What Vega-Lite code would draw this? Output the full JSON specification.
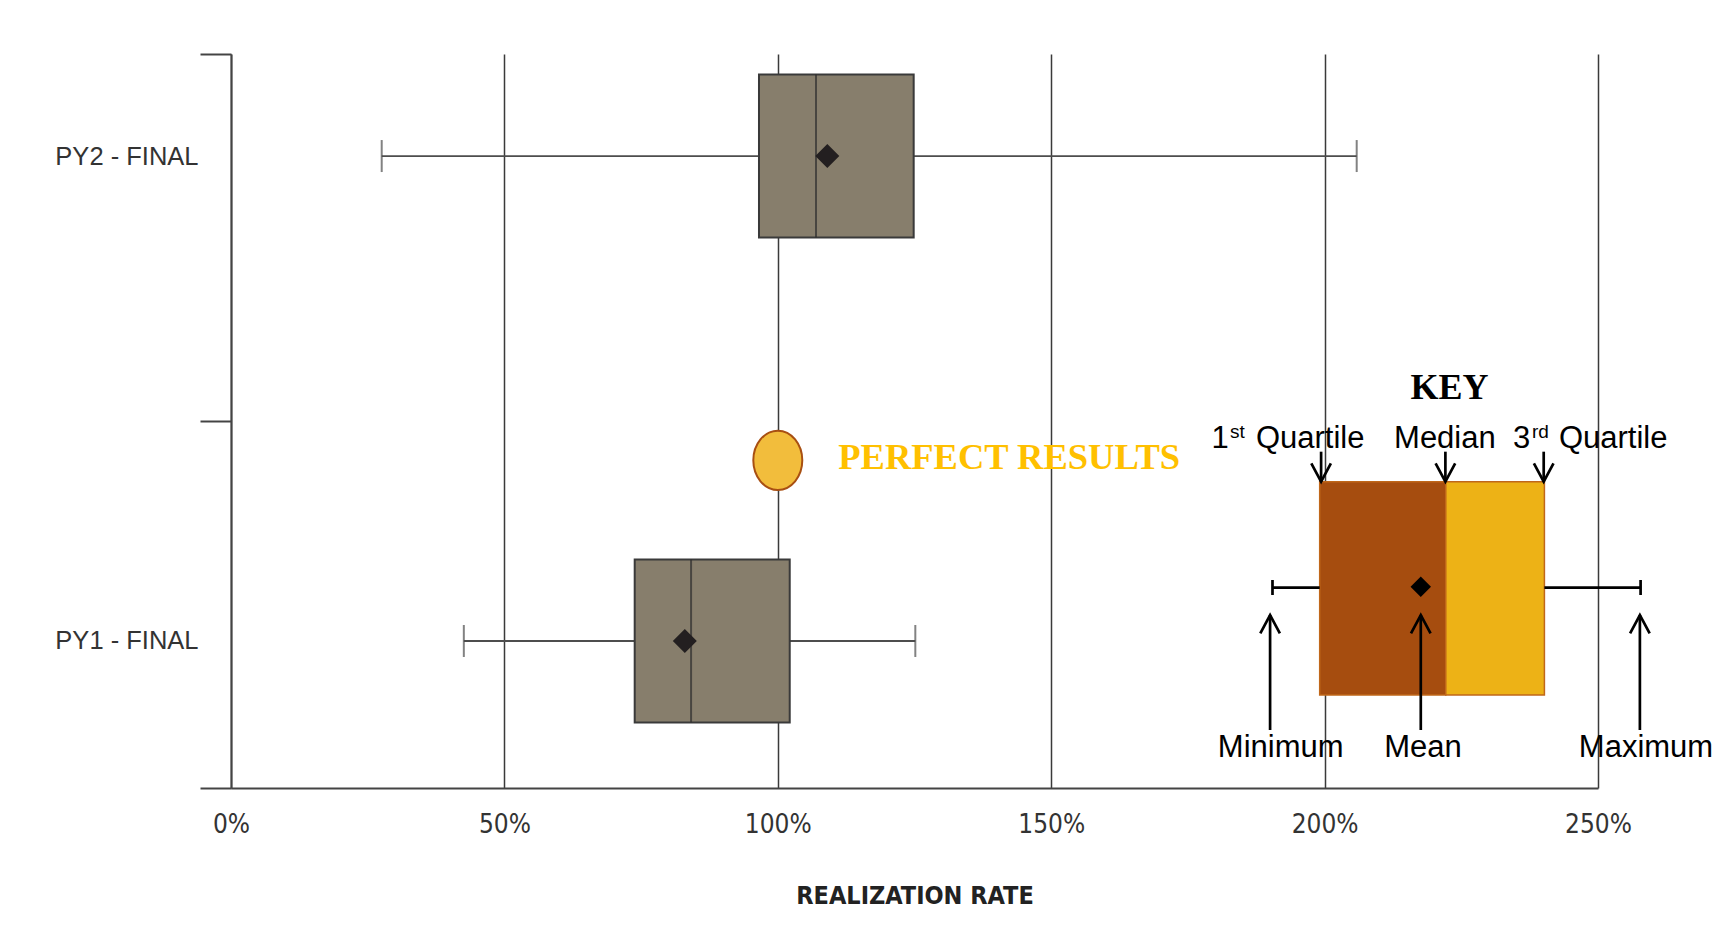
{
  "$schema": "https://vega.github.io/schema/vega-lite/v6.json",
  "width": 1367,
  "height": 734,
  "autosize": {"type": "none"},
  "padding": {"left": 231, "top": 54, "right": 119, "bottom": 164},
  "background": "white",
  "config": {
    "view": {"stroke": null},
    "axisX": {
      "grid": true,
      "gridColor": "#3a3a3a",
      "gridWidth": 1.5,
      "domainColor": "#444444",
      "domainWidth": 2,
      "ticks": false,
      "labelFlush": false,
      "labelPadding": 23,
      "labelFont": "Liberation Sans Narrow, DejaVu Sans Condensed, Liberation Sans, sans-serif",
      "labelFontSize": 26,
      "labelColor": "#333333",
      "titleFont": "Liberation Sans Narrow, DejaVu Sans Condensed, Liberation Sans, sans-serif",
      "titleFontSize": 25,
      "titleFontWeight": "bold",
      "titleColor": "#222222",
      "titlePadding": 46
    }
  },
  "datasets": {
    "boxes": [
      {"label": "PY2 - FINAL", "min": 0.2756, "q1": 0.9656, "median": 1.0699, "mean": 1.0905, "q3": 1.2485, "max": 2.0587},
      {"label": "PY1 - FINAL", "min": 0.4258, "q1": 0.7383, "median": 0.8414, "mean": 0.8299, "q3": 1.0218, "max": 1.2515}
    ],
    "keyrects": [
      {"part": "Q1 to median", "x": 1.991, "x2": 2.2216, "y": 0.4173, "y2": 0.1267},
      {"part": "median to Q3", "x": 2.2216, "x2": 2.402, "y": 0.4173, "y2": 0.1267}
    ],
    "segments": [
      {"x": 1.9047, "x2": 1.991, "y": 0.2729, "y2": 0.2729},
      {"x": 2.402, "x2": 2.5779, "y": 0.2729, "y2": 0.2729},
      {"x": 1.9047, "x2": 1.9047, "y": 0.2834, "y2": 0.2629},
      {"x": 2.5779, "x2": 2.5779, "y": 0.2834, "y2": 0.2629},
      {"x": 1.9936, "x2": 1.9936, "y": 0.4582, "y2": 0.4173},
      {"x": 2.2209, "x2": 2.2209, "y": 0.4582, "y2": 0.4173},
      {"x": 2.4007, "x2": 2.4007, "y": 0.4582, "y2": 0.4173},
      {"x": 1.9003, "x2": 1.9003, "y": 0.2357, "y2": 0.079},
      {"x": 2.1759, "x2": 2.1759, "y": 0.2357, "y2": 0.079},
      {"x": 2.5766, "x2": 2.5766, "y": 0.2357, "y2": 0.079}
    ],
    "arrowheads": [
      {"dir": "down", "x": 1.9936, "y": 0.4173},
      {"dir": "down", "x": 2.2209, "y": 0.4173},
      {"dir": "down", "x": 2.4007, "y": 0.4173},
      {"dir": "up", "x": 1.9003, "y": 0.2357},
      {"dir": "up", "x": 2.1759, "y": 0.2357},
      {"dir": "up", "x": 2.5766, "y": 0.2357}
    ],
    "keydiamond": [{"x": 2.1759, "y": 0.2743}],
    "perfect": [{"x": 1.0, "y": 0.4464}],
    "perfecttext": [{"text": "PERFECT RESULTS", "x": 1.1106, "y": 0.4342}],
    "keytitle": [{"text": "KEY", "x": 2.2283, "y": 0.5295}],
    "keylabels": [
      {"text": "1", "x": 1.809, "y": 0.4628},
      {"text": "Quartile", "x": 1.9736, "y": 0.4628},
      {"text": "Median", "x": 2.22, "y": 0.4628},
      {"text": "3", "x": 2.3603, "y": 0.4628},
      {"text": "Quartile", "x": 2.5278, "y": 0.4628},
      {"text": "Minimum", "x": 1.9197, "y": 0.0426},
      {"text": "Mean", "x": 2.18, "y": 0.0426},
      {"text": "Maximum", "x": 2.5878, "y": 0.0426}
    ],
    "keysup": [
      {"text": "st", "x": 1.8405, "y": 0.4764},
      {"text": "rd", "x": 2.3948, "y": 0.4764}
    ]
  },
  "resolve": {"scale": {"y": "independent"}},
  "layer": [
    {
      "data": {"name": "boxes"},
      "encoding": {
        "y": {
          "field": "label",
          "type": "nominal",
          "sort": null,
          "scale": {"type": "point", "padding": 0.2568, "align": 0.4097},
          "axis": {
            "orient": "left",
            "title": null,
            "domain": false,
            "ticks": false,
            "grid": false,
            "labelPadding": 33,
            "labelFont": "Liberation Sans, Arial, sans-serif",
            "labelFontSize": 25.5,
            "labelColor": "#333333"
          }
        }
      },
      "layer": [
        {
          "mark": {"type": "rule", "color": "#4d4d4d", "strokeWidth": 1.8},
          "encoding": {
            "x": {"field": "min", "type": "quantitative", "title": "REALIZATION RATE", "scale": {"domain": [0, 2.5], "nice": false},
                  "axis": {"values": [0, 0.5, 1, 1.5, 2, 2.5], "format": ".0%", "orient": "bottom"}},
            "x2": {"field": "max"}
          }
        },
        {
          "mark": {"type": "tick", "color": "#4d4d4d", "thickness": 2, "size": 32},
          "encoding": {"x": {"field": "min", "type": "quantitative", "title": "REALIZATION RATE", "scale": {"domain": [0, 2.5], "nice": false}}}
        },
        {
          "mark": {"type": "tick", "color": "#4d4d4d", "thickness": 2, "size": 32},
          "encoding": {"x": {"field": "max", "type": "quantitative", "title": "REALIZATION RATE", "scale": {"domain": [0, 2.5], "nice": false}}}
        },
        {
          "mark": {"type": "bar", "size": 163, "fill": "#877e6c", "stroke": "#3a3a3a", "strokeWidth": 2},
          "encoding": {
            "x": {"field": "q1", "type": "quantitative", "title": "REALIZATION RATE", "scale": {"domain": [0, 2.5], "nice": false}},
            "x2": {"field": "q3"}
          }
        },
        {
          "mark": {"type": "tick", "color": "#2e2e2e", "thickness": 2, "size": 163},
          "encoding": {"x": {"field": "median", "type": "quantitative", "title": "REALIZATION RATE", "scale": {"domain": [0, 2.5], "nice": false}}}
        },
        {
          "mark": {"type": "point", "shape": "diamond", "size": 576, "filled": true, "color": "#231f20", "opacity": 1},
          "encoding": {"x": {"field": "mean", "type": "quantitative", "title": "REALIZATION RATE", "scale": {"domain": [0, 2.5], "nice": false}}}
        }
      ]
    },
    {
      "encoding": {
        "x": {"field": "x", "type": "quantitative", "title": "REALIZATION RATE", "scale": {"domain": [0, 2.5], "nice": false}},
        "y": {
          "field": "y",
          "type": "quantitative",
          "scale": {"domain": [0, 1], "nice": false, "zero": false},
          "axis": {
            "orient": "left",
            "title": null,
            "values": [0, 0.5, 1],
            "labels": false,
            "ticks": true,
            "tickSize": 31,
            "tickWidth": 2,
            "tickColor": "#444444",
            "domain": true,
            "domainColor": "#444444",
            "domainWidth": 2,
            "grid": false
          }
        }
      },
      "layer": [
        {
          "data": {"name": "keyrects"},
          "mark": {"type": "rect", "stroke": "#c0671a", "strokeWidth": 1.5},
          "encoding": {
            "x2": {"field": "x2"},
            "y2": {"field": "y2"},
            "color": {"field": "part", "type": "nominal", "scale": {"domain": ["Q1 to median", "median to Q3"], "range": ["#A64D0F", "#EDB216"]}, "legend": null}
          }
        },
        {
          "data": {"name": "segments"},
          "mark": {"type": "rule", "color": "#000000", "strokeWidth": 2.7},
          "encoding": {"x2": {"field": "x2"}, "y2": {"field": "y2"}}
        },
        {
          "data": {"name": "arrowheads"},
          "mark": {"type": "point", "filled": false, "stroke": "#000000", "strokeWidth": 2.7, "size": 1340, "opacity": 1},
          "encoding": {
            "shape": {"field": "dir", "type": "nominal", "scale": {"domain": ["down", "up"], "range": ["M -0.535 -1 L 0 0 L 0.535 -1", "M -0.535 1 L 0 0 L 0.535 1"]}, "legend": null}
          }
        },
        {
          "data": {"name": "keydiamond"},
          "mark": {"type": "point", "shape": "diamond", "size": 420, "filled": true, "color": "#000000", "opacity": 1}
        },
        {
          "data": {"name": "perfect"},
          "mark": {"type": "point", "shape": "M -0.826 0 A 0.826 1 0 1 1 0.826 0 A 0.826 1 0 1 1 -0.826 0 Z", "size": 3516, "filled": true, "fill": "#F2BD3C", "stroke": "#A84F12", "strokeWidth": 2, "opacity": 1}
        },
        {
          "data": {"name": "perfecttext"},
          "mark": {"type": "text", "align": "left", "baseline": "alphabetic", "font": "Liberation Serif, serif", "fontWeight": "bold", "fontSize": 36.5, "color": "#FFC000"},
          "encoding": {"text": {"field": "text"}}
        },
        {
          "data": {"name": "keytitle"},
          "mark": {"type": "text", "align": "center", "baseline": "alphabetic", "font": "Liberation Serif, serif", "fontWeight": "bold", "fontSize": 36, "color": "#000000"},
          "encoding": {"text": {"field": "text"}}
        },
        {
          "data": {"name": "keylabels"},
          "mark": {"type": "text", "align": "center", "baseline": "alphabetic", "font": "Liberation Sans, Arial, sans-serif", "fontSize": 31, "color": "#000000"},
          "encoding": {"text": {"field": "text"}}
        },
        {
          "data": {"name": "keysup"},
          "mark": {"type": "text", "align": "center", "baseline": "alphabetic", "font": "Liberation Sans, Arial, sans-serif", "fontSize": 19, "color": "#000000"},
          "encoding": {"text": {"field": "text"}}
        }
      ]
    }
  ]
}
